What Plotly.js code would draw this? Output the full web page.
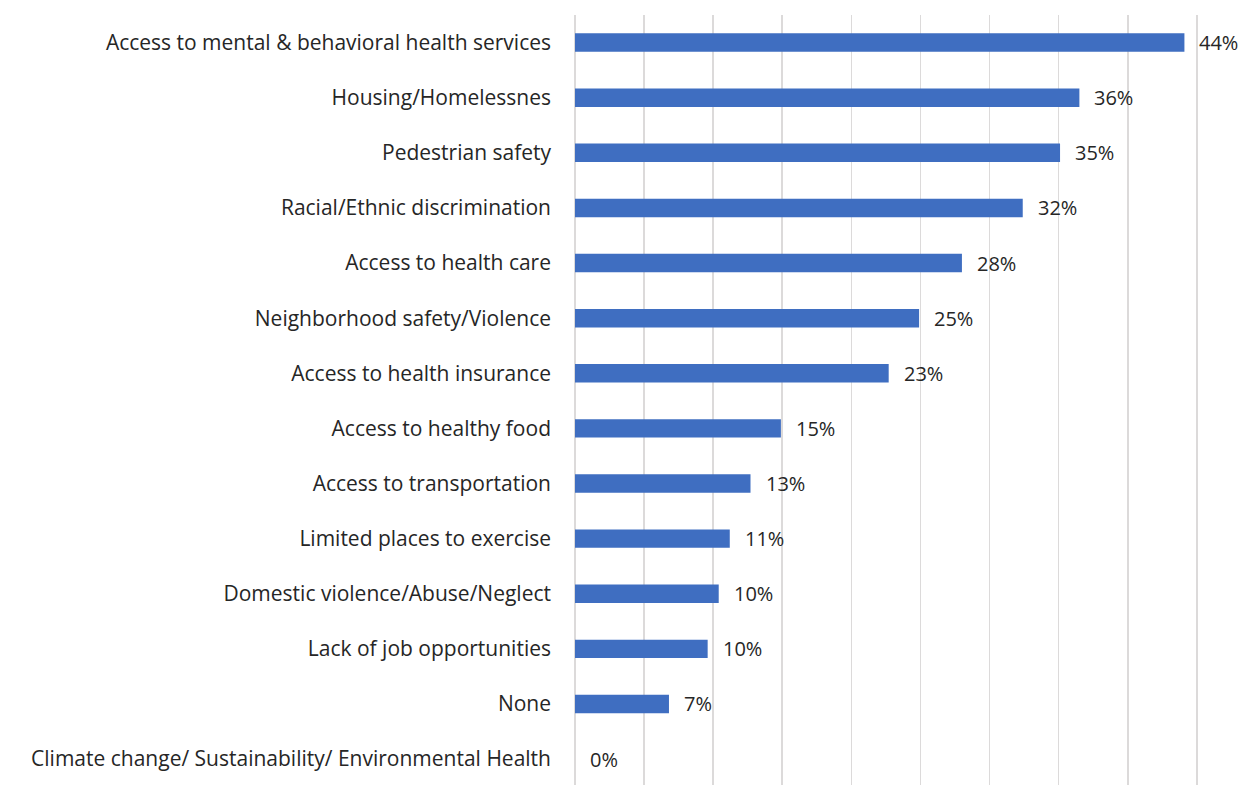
<!DOCTYPE html>
<html>
<head>
<meta charset="utf-8">
<script src="https://cdn.plot.ly/plotly-3.0.1.min.js"></script>
<style>
  html, body { margin: 0; padding: 0; background: #ffffff; }
  #chart { width: 1253px; height: 785px; }
</style>
</head>
<body>
<div id="chart"></div>
<script>
const categories = [
  "Access to mental & behavioral health services",
  "Housing/Homelessnes",
  "Pedestrian safety",
  "Racial/Ethnic discrimination",
  "Access to health care",
  "Neighborhood safety/Violence",
  "Access to health insurance",
  "Access to healthy food",
  "Access to transportation",
  "Limited places to exercise",
  "Domestic violence/Abuse/Neglect",
  "Lack of job opportunities",
  "None",
  "Climate change/ Sustainability/ Environmental Health"
];
// bar lengths (percent)
const values = [44.1, 36.5, 35.1, 32.4, 28.0, 24.9, 22.7, 14.9, 12.7, 11.2, 10.4, 9.6, 6.8, 0];
// printed data labels
const valueLabels = ["44%", "36%", "35%", "32%", "28%", "25%", "23%", "15%", "13%", "11%", "10%", "10%", "7%", "0%"];

const FONT = "'Open Sans', Lato, sans-serif";
const TEXT_COLOR = "#262626";

const trace = {
  type: "bar",
  orientation: "h",
  y: categories,
  x: values,
  marker: { color: "#3F6EC1" },
  hoverinfo: "skip"
};

const annotations = categories.map((c, i) => ({
  x: values[i],
  y: c,
  xref: "x",
  yref: "y",
  text: valueLabels[i],
  showarrow: false,
  xanchor: "left",
  yanchor: "middle",
  xshift: 13,
  font: { family: FONT, size: 20, color: TEXT_COLOR }
}));

const layout = {
  width: 1253,
  height: 785,
  margin: { l: 575, r: 52, t: 15, b: 0, pad: 0 },
  paper_bgcolor: "#ffffff",
  plot_bgcolor: "#ffffff",
  bargap: 0.665,
  showlegend: false,
  font: { family: FONT, size: 20, color: TEXT_COLOR },
  xaxis: {
    range: [0, 45.3],
    tick0: 0,
    dtick: 5,
    showgrid: true,
    gridcolor: "#dcdada",
    gridwidth: 1.6,
    zeroline: true,
    zerolinecolor: "#dcdada",
    zerolinewidth: 1.6,
    showticklabels: false,
    ticks: "",
    showline: false,
    fixedrange: true
  },
  yaxis: {
    type: "category",
    categoryorder: "array",
    categoryarray: categories,
    range: [13.47, -0.5],
    showgrid: false,
    zeroline: false,
    showline: false,
    ticks: "",
    ticklabelstandoff: 23,
    tickfont: { family: FONT, size: 21, color: TEXT_COLOR },
    automargin: false,
    fixedrange: true
  },
  annotations: annotations
};

Plotly.newPlot("chart", [trace], layout, { staticPlot: true, displayModeBar: false });
</script>
</body>
</html>
